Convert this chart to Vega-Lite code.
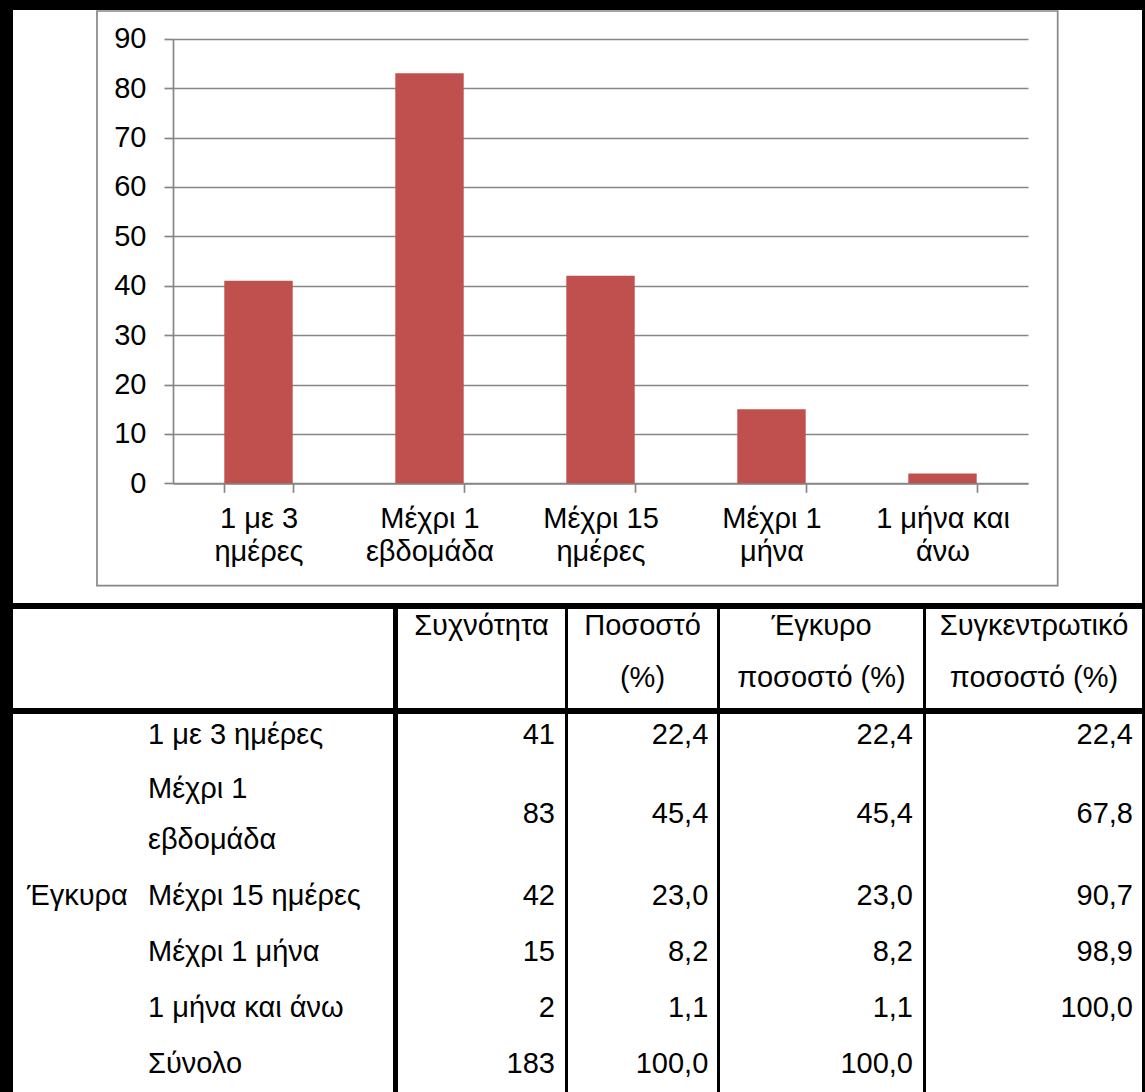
{
  "$schema": "https://vega.github.io/schema/vega-lite/v6.json",
  "description": "Διάρκεια: ραβδόγραμμα συχνοτήτων και πίνακας συχνοτήτων",
  "background": "black",
  "padding": {"left": 13, "top": 10, "right": 3, "bottom": 0},
  "spacing": 6,
  "config": {
    "view": {"fill": "white", "stroke": null},
    "style": {"view": {"fill": "white", "stroke": null}},
    "font": "Liberation Sans",
    "text": {"font": "Liberation Sans", "fontSize": 29, "color": "black"},
    "locale": {"number": {"decimal": ",", "thousands": ".", "grouping": [3], "currency": ["", " €"]}}
  },
  "datasets": {
    "frequencies": [
      {"group": "Έγκυρα", "duration": "1 με 3 ημέρες", "count": 41, "percent": 22.4, "valid": 22.4, "cumulative": 22.4},
      {"group": "Έγκυρα", "duration": "Μέχρι 1 εβδομάδα", "count": 83, "percent": 45.4, "valid": 45.4, "cumulative": 67.8},
      {"group": "Έγκυρα", "duration": "Μέχρι 15 ημέρες", "count": 42, "percent": 23.0, "valid": 23.0, "cumulative": 90.7},
      {"group": "Έγκυρα", "duration": "Μέχρι 1 μήνα", "count": 15, "percent": 8.2, "valid": 8.2, "cumulative": 98.9},
      {"group": "Έγκυρα", "duration": "1 μήνα και άνω", "count": 2, "percent": 1.1, "valid": 1.1, "cumulative": 100.0},
      {"group": "Έγκυρα", "duration": "Σύνολο", "count": 183, "percent": 100.0, "valid": 100.0, "cumulative": null}
    ]
  },
  "vconcat": [
    {
      "width": 1129,
      "height": 593,
      "data": {"name": "frequencies"},
      "transform": [{"filter": "datum.duration !== 'Σύνολο'"}],
      "resolve": {"scale": {"x": "independent", "y": "independent"}},
      "layer": [
        {
          "data": {"values": [{"area": "chart"}]},
          "mark": {"type": "rect", "fill": "transparent", "stroke": "#868686", "strokeWidth": 1.7},
          "encoding": {
            "x": {"datum": 0, "type": "quantitative", "scale": {"domain": [0, 1], "range": [84, 1044.7], "nice": false}, "axis": null},
            "x2": {"datum": 1},
            "y": {"datum": 0, "type": "quantitative", "scale": {"domain": [0, 1], "range": [1, 575.7], "nice": false}, "axis": null},
            "y2": {"datum": 1}
          }
        },
        {
          "mark": {"type": "bar", "color": "#C0504D"},
          "encoding": {
            "x": {
              "field": "duration", "type": "nominal", "sort": null,
              "scale": {"range": [160, 1015], "paddingInner": 0.6, "paddingOuter": 0.3},
              "axis": {
                "orient": "bottom", "offset": -119.7, "title": null, "labelAngle": 0,
                "labelExpr": "[substring(datum.label, 0, lastindexof(datum.label, ' ')), substring(datum.label, lastindexof(datum.label, ' ') + 1)]",
                "labelFont": "Liberation Sans", "labelFontSize": 29, "labelLineHeight": 33, "labelColor": "black",
                "labelPadding": 12, "labelLimit": 0,
                "domainColor": "#868686", "domainWidth": 1.7,
                "tickColor": "#868686", "tickWidth": 1.7, "tickSize": 9, "tickBand": "extent"
              }
            },
            "y": {
              "field": "count", "type": "quantitative",
              "scale": {"domain": [0, 90], "range": [473.3, 28.7], "nice": false},
              "axis": {
                "orient": "left", "offset": -160, "title": null,
                "values": [0, 10, 20, 30, 40, 50, 60, 70, 80, 90],
                "grid": true, "gridColor": "#868686", "gridWidth": 1.7,
                "domainColor": "#868686", "domainWidth": 1.7,
                "tickColor": "#868686", "tickWidth": 1.7, "tickSize": 9,
                "labelFont": "Liberation Sans", "labelFontSize": 29, "labelColor": "black", "labelPadding": 18
              }
            }
          }
        }
      ]
    },
    {
      "spacing": 5,
      "hconcat": [
        {
          "width": 380, "height": 99,
          "data": {"values": [{"title": ""}]},
          "mark": {"type": "text"},
          "encoding": {"text": {"field": "title"}}
        },
        {
          "spacing": 3,
          "hconcat": [
            {
              "width": 167, "height": 99,
              "data": {"values": [{"title": "Συχνότητα"}]},
              "mark": {"type": "text", "align": "center", "baseline": "alphabetic", "dy": -23.5, "lineHeight": 52,
                       "text": {"expr": "indexof(datum.title, ' ') < 0 ? datum.title : [substring(datum.title, 0, indexof(datum.title, ' ')), substring(datum.title, indexof(datum.title, ' ') + 1)]"}},
              "encoding": {}
            },
            {
              "width": 149, "height": 99,
              "data": {"values": [{"title": "Ποσοστό (%)"}]},
              "mark": {"type": "text", "align": "center", "baseline": "alphabetic", "dy": -23.5, "lineHeight": 52,
                       "text": {"expr": "indexof(datum.title, ' ') < 0 ? datum.title : [substring(datum.title, 0, indexof(datum.title, ' ')), substring(datum.title, indexof(datum.title, ' ') + 1)]"}},
              "encoding": {}
            },
            {
              "width": 203, "height": 99,
              "data": {"values": [{"title": "Έγκυρο ποσοστό (%)"}]},
              "mark": {"type": "text", "align": "center", "baseline": "alphabetic", "dy": -23.5, "lineHeight": 52,
                       "text": {"expr": "indexof(datum.title, ' ') < 0 ? datum.title : [substring(datum.title, 0, indexof(datum.title, ' ')), substring(datum.title, indexof(datum.title, ' ') + 1)]"}},
              "encoding": {}
            },
            {
              "width": 216, "height": 99,
              "data": {"values": [{"title": "Συγκεντρωτικό ποσοστό (%)"}]},
              "mark": {"type": "text", "align": "center", "baseline": "alphabetic", "dy": -23.5, "lineHeight": 52,
                       "text": {"expr": "indexof(datum.title, ' ') < 0 ? datum.title : [substring(datum.title, 0, indexof(datum.title, ' ')), substring(datum.title, indexof(datum.title, ' ') + 1)]"}},
              "encoding": {}
            }
          ]
        }
      ]
    },
    {
      "data": {"name": "frequencies"},
      "spacing": 0,
      "vconcat": [
        {
          "transform": [{"filter": {"field": "duration", "equal": "1 με 3 ημέρες"}}],
          "spacing": 5,
          "hconcat": [
            {
              "width": 380, "height": 46,
              "mark": {"type": "text", "align": "left", "baseline": "middle", "dx": -55, "dy": -2},
              "encoding": {"text": {"field": "duration"}}
            },
            {
              "spacing": 3,
              "hconcat": [
                {"width": 167, "height": 46, "mark": {"type": "text", "align": "right", "baseline": "middle", "dx": -10, "dy": -2},
                 "encoding": {"x": {"value": "width"}, "text": {"field": "count", "type": "quantitative", "format": "d"}}},
                {"width": 149, "height": 46, "mark": {"type": "text", "align": "right", "baseline": "middle", "dx": -8.7, "dy": -2},
                 "encoding": {"x": {"value": "width"}, "text": {"field": "percent", "type": "quantitative", "format": ".1f"}}},
                {"width": 203, "height": 46, "mark": {"type": "text", "align": "right", "baseline": "middle", "dx": -10, "dy": -2},
                 "encoding": {"x": {"value": "width"}, "text": {"field": "valid", "type": "quantitative", "format": ".1f"}}},
                {"width": 216, "height": 46, "mark": {"type": "text", "align": "right", "baseline": "middle", "dx": -9, "dy": -2},
                 "encoding": {"x": {"value": "width"}, "text": {"field": "cumulative", "type": "quantitative", "format": ".1f"}}}
              ]
            }
          ]
        },
        {
          "transform": [{"filter": {"field": "duration", "equal": "Μέχρι 1 εβδομάδα"}}],
          "spacing": 5,
          "hconcat": [
            {
              "width": 380, "height": 108,
              "mark": {"type": "text", "align": "left", "baseline": "alphabetic", "dx": -55, "dy": -16, "lineHeight": 51,
                       "text": {"expr": "[substring(datum.duration, 0, lastindexof(datum.duration, ' ')), substring(datum.duration, lastindexof(datum.duration, ' ') + 1)]"}},
              "encoding": {}
            },
            {
              "spacing": 3,
              "hconcat": [
                {"width": 167, "height": 108, "mark": {"type": "text", "align": "right", "baseline": "middle", "dx": -10},
                 "encoding": {"x": {"value": "width"}, "text": {"field": "count", "type": "quantitative", "format": "d"}}},
                {"width": 149, "height": 108, "mark": {"type": "text", "align": "right", "baseline": "middle", "dx": -8.7},
                 "encoding": {"x": {"value": "width"}, "text": {"field": "percent", "type": "quantitative", "format": ".1f"}}},
                {"width": 203, "height": 108, "mark": {"type": "text", "align": "right", "baseline": "middle", "dx": -10},
                 "encoding": {"x": {"value": "width"}, "text": {"field": "valid", "type": "quantitative", "format": ".1f"}}},
                {"width": 216, "height": 108, "mark": {"type": "text", "align": "right", "baseline": "middle", "dx": -9},
                 "encoding": {"x": {"value": "width"}, "text": {"field": "cumulative", "type": "quantitative", "format": ".1f"}}}
              ]
            }
          ]
        },
        {
          "transform": [{"filter": {"field": "duration", "oneOf": ["Μέχρι 15 ημέρες", "Μέχρι 1 μήνα", "1 μήνα και άνω", "Σύνολο"]}}],
          "spacing": 5,
          "hconcat": [
            {
              "width": 380, "height": 224,
              "layer": [
                {
                  "mark": {"type": "text", "align": "left", "baseline": "middle", "dx": -55},
                  "encoding": {
                    "y": {"field": "duration", "type": "nominal", "sort": null, "scale": {"paddingInner": 0, "paddingOuter": 0}, "axis": null},
                    "text": {"field": "duration"}
                  }
                },
                {
                  "transform": [{"filter": {"field": "duration", "equal": "Μέχρι 15 ημέρες"}}],
                  "mark": {"type": "text", "align": "left", "baseline": "middle", "dx": -176},
                  "encoding": {
                    "y": {"field": "duration", "type": "nominal", "sort": null, "axis": null},
                    "text": {"field": "group"}
                  }
                }
              ]
            },
            {
              "spacing": 3,
              "hconcat": [
                {"width": 167, "height": 224, "mark": {"type": "text", "align": "right", "baseline": "middle", "dx": -10},
                 "encoding": {"x": {"value": "width"},
                              "y": {"field": "duration", "type": "nominal", "sort": null, "scale": {"paddingInner": 0, "paddingOuter": 0}, "axis": null},
                              "text": {"field": "count", "type": "quantitative", "format": "d"}}},
                {"width": 149, "height": 224, "mark": {"type": "text", "align": "right", "baseline": "middle", "dx": -8.7},
                 "encoding": {"x": {"value": "width"},
                              "y": {"field": "duration", "type": "nominal", "sort": null, "scale": {"paddingInner": 0, "paddingOuter": 0}, "axis": null},
                              "text": {"field": "percent", "type": "quantitative", "format": ".1f"}}},
                {"width": 203, "height": 224, "mark": {"type": "text", "align": "right", "baseline": "middle", "dx": -10},
                 "encoding": {"x": {"value": "width"},
                              "y": {"field": "duration", "type": "nominal", "sort": null, "scale": {"paddingInner": 0, "paddingOuter": 0}, "axis": null},
                              "text": {"field": "valid", "type": "quantitative", "format": ".1f"}}},
                {"width": 216, "height": 224,
                 "transform": [{"filter": "isValid(datum.cumulative)"}],
                 "mark": {"type": "text", "align": "right", "baseline": "middle", "dx": -9},
                 "encoding": {"x": {"value": "width"},
                              "y": {"field": "duration", "type": "nominal", "sort": null, "scale": {"domain": ["Μέχρι 15 ημέρες", "Μέχρι 1 μήνα", "1 μήνα και άνω", "Σύνολο"], "paddingInner": 0, "paddingOuter": 0}, "axis": null},
                              "text": {"field": "cumulative", "type": "quantitative", "format": ".1f"}}}
              ]
            }
          ]
        }
      ]
    }
  ]
}
